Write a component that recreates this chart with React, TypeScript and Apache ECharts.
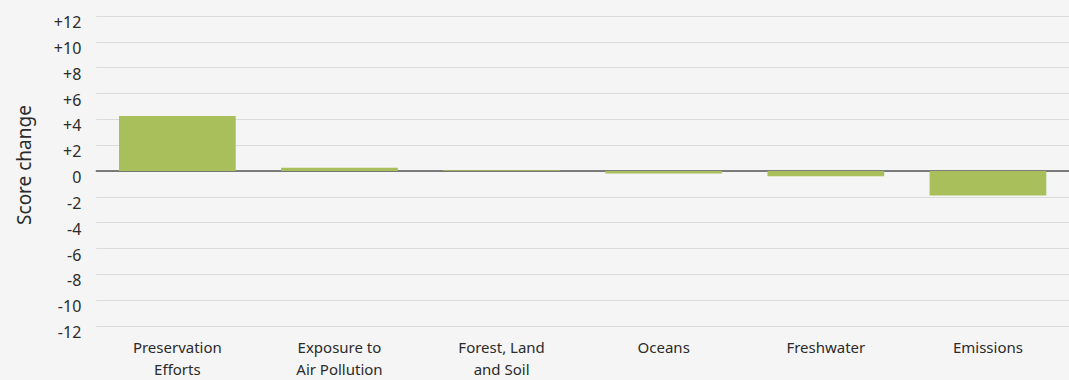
import React, { useEffect, useRef } from "react";
import * as echarts from "echarts";

const categories = [
  "Preservation\nEfforts",
  "Exposure to\nAir Pollution",
  "Forest, Land\nand Soil",
  "Oceans",
  "Freshwater",
  "Emissions",
];
const scoreChange = [4.25, 0.25, 0.05, -0.2, -0.4, -1.9];
const yMin = -12;
const yMax = 12;
const yStep = 2;

export default function App() {
  const ref = useRef<HTMLDivElement>(null);
  useEffect(() => {
    if (!ref.current) return;
    const chart = echarts.init(ref.current, undefined, { renderer: "svg" });
    chart.setOption({
      animation: false,
      backgroundColor: "#f5f5f5",
      textStyle: { fontFamily: "Noto Sans" },
      grid: { left: 96.3, right: -1.7, top: 16, bottom: 50, containLabel: false },
      xAxis: {
        type: "category",
        data: categories,
        axisTick: { show: false },
        axisLine: { onZero: true, lineStyle: { color: "#555", width: 1.5 } },
        axisLabel: {
          color: "#2b2b2b",
          fontSize: 15,
          lineHeight: 22,
          margin: 10,
          interval: 0,
          fontFamily: "Noto Sans",
        },
      },
      yAxis: {
        type: "value",
        min: yMin,
        max: yMax,
        interval: yStep,
        name: "Score change",
        nameLocation: "middle",
        nameRotate: 90,
        nameGap: 63,
        nameTextStyle: {
          color: "#2b2b2b",
          fontSize: 19,
          fontFamily: "Noto Sans",
          padding: [0, 0, 0, 12],
        },
        axisLine: { show: false },
        axisTick: { show: false },
        splitLine: { lineStyle: { color: "#dcdcdc", width: 1.2 } },
        axisLabel: {
          color: "#2b2b2b",
          fontSize: 16,
          margin: 15,
          verticalAlign: "top",
          lineHeight: 12,
          fontFamily: "Noto Sans",
          formatter: (v: number) => (v > 0 ? "+" + v : String(v)),
        },
      },
      series: [
        {
          type: "bar",
          data: scoreChange,
          barWidth: "72%",
          itemStyle: { color: "#a9bf5b" },
        },
      ],
    });
    return () => chart.dispose();
  }, []);
  return (
    <div
      ref={ref}
      style={{ position: "fixed", left: 0, top: 0, width: 1069, height: 380, background: "#f5f5f5" }}
    />
  );
}
